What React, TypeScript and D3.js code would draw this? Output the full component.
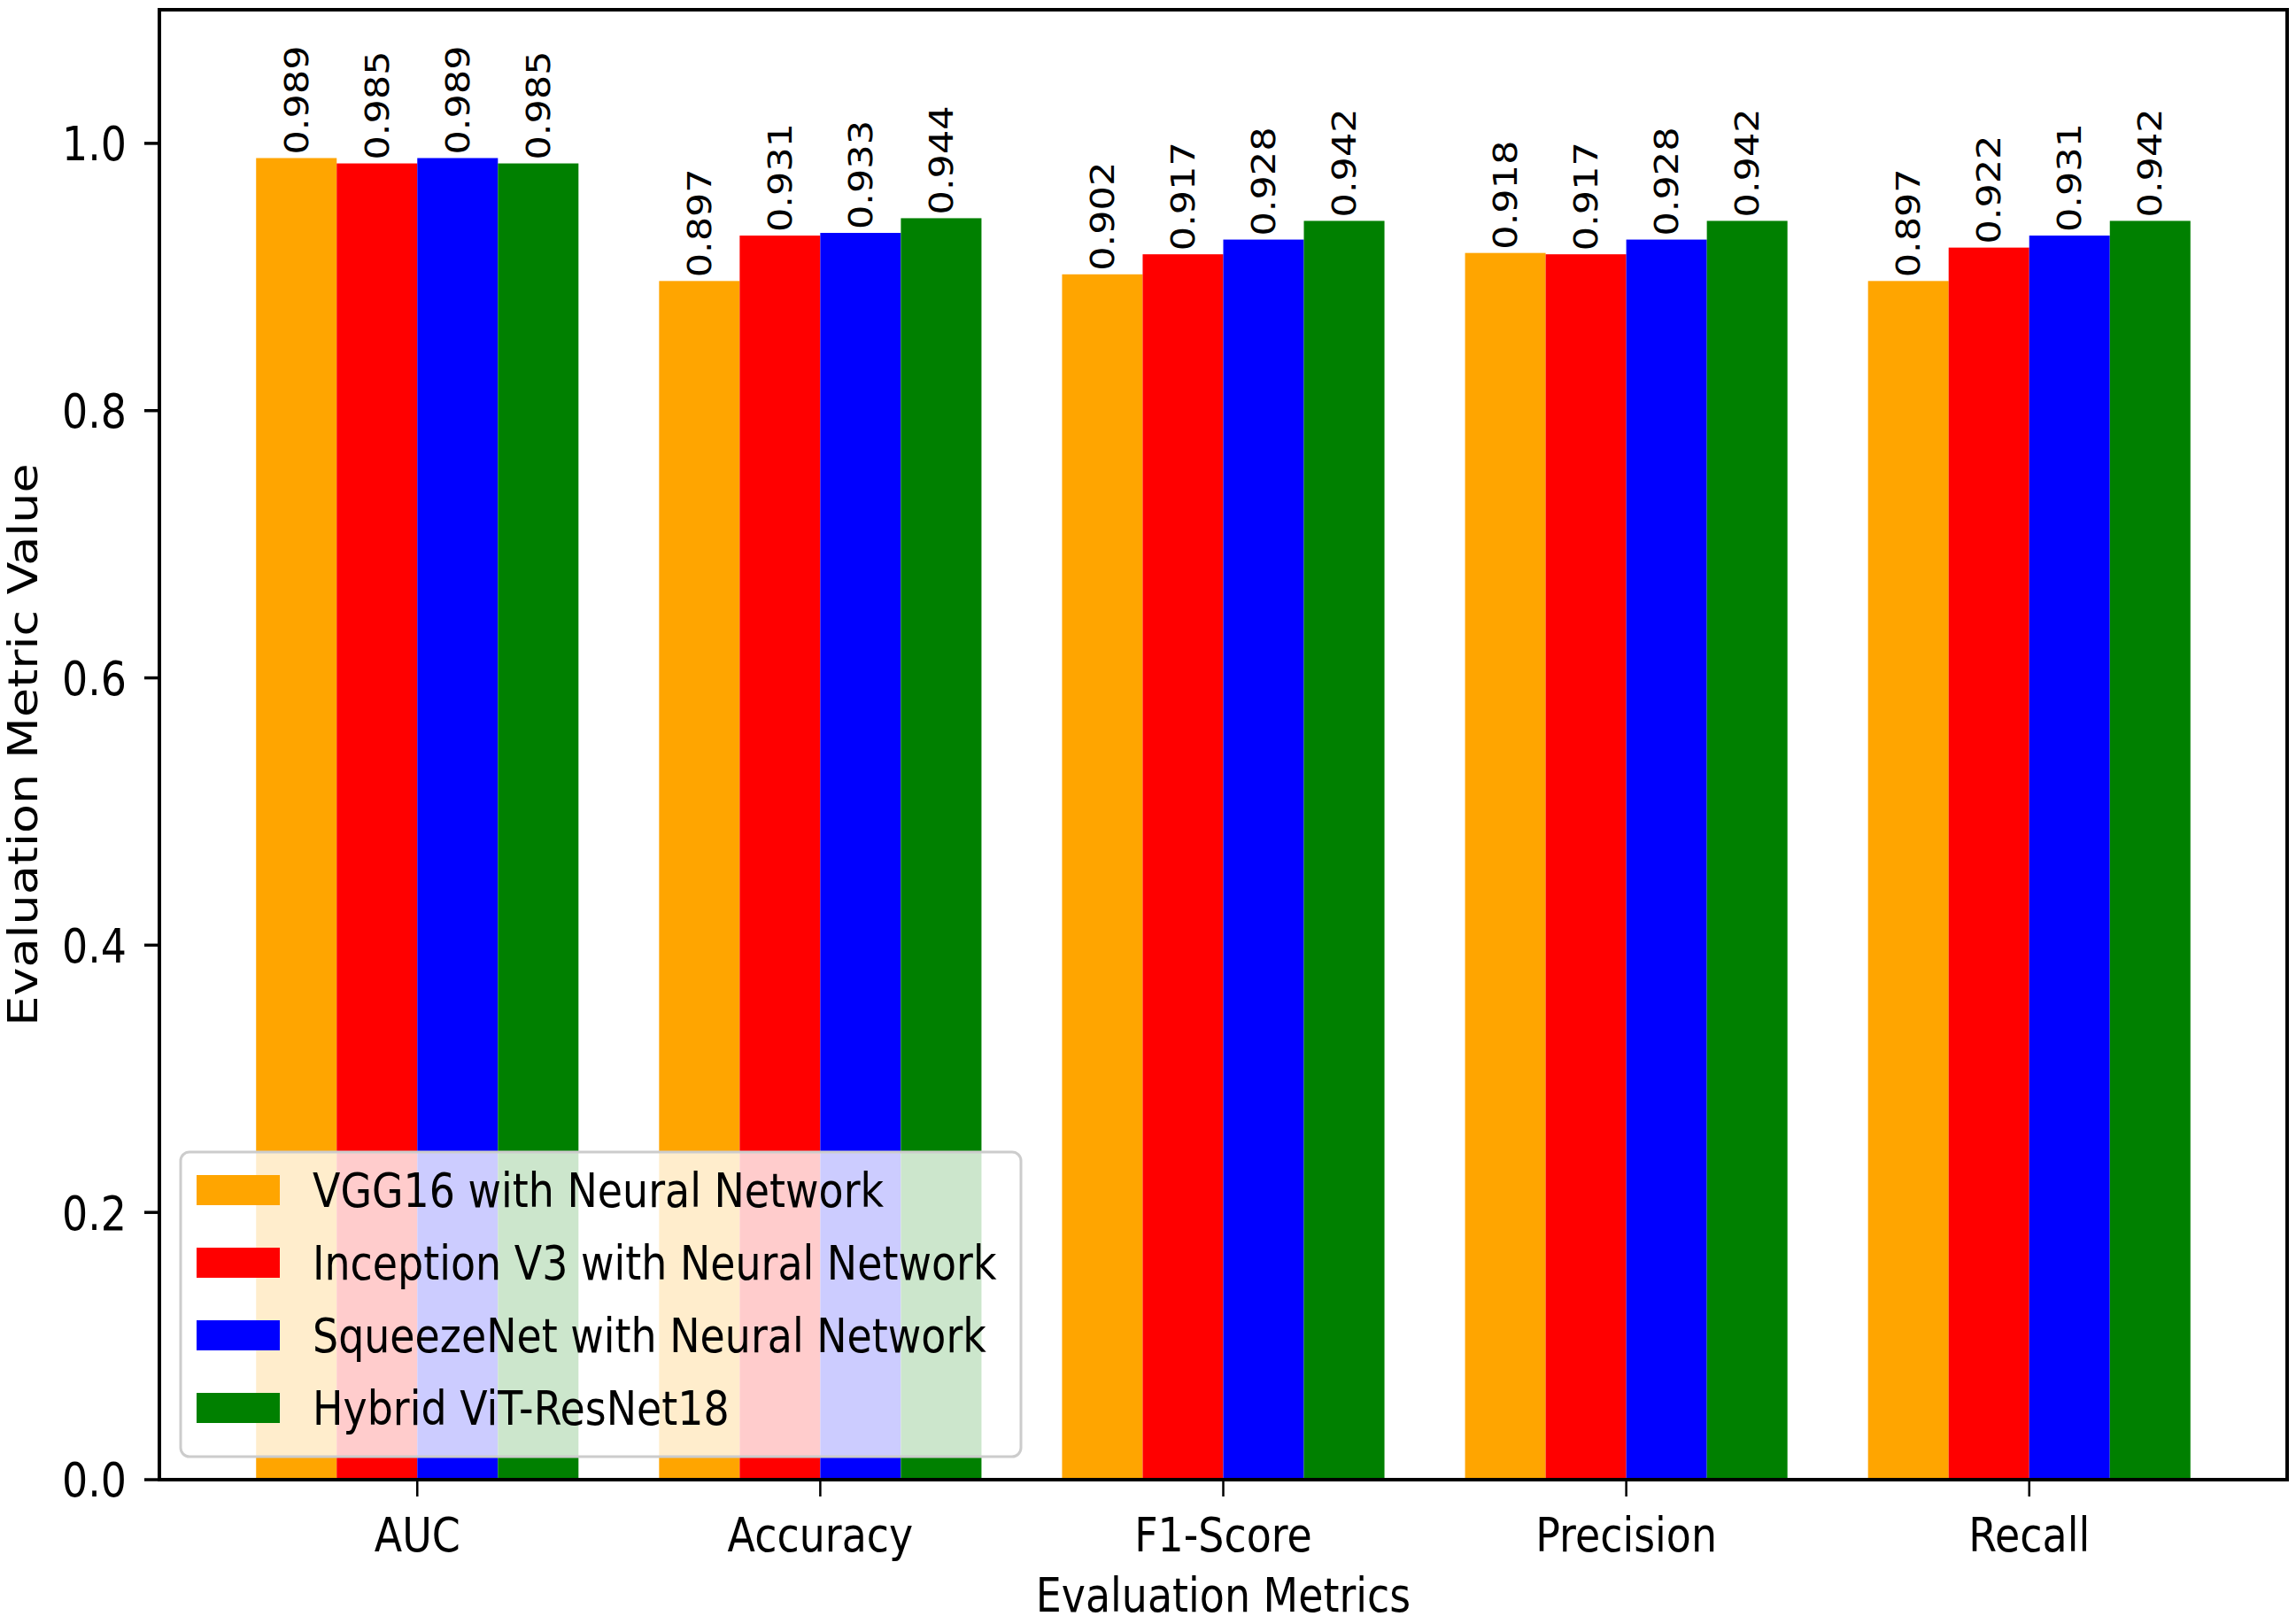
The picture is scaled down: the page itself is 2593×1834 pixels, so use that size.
import * as d3 from 'd3'

const categories = ['AUC', 'Accuracy', 'F1-Score', 'Precision', 'Recall']
const seriesNames = [
  'VGG16 with Neural Network',
  'Inception V3 with Neural Network',
  'SqueezeNet with Neural Network',
  'Hybrid ViT-ResNet18',
]
const seriesColors = ['#ffa500', '#ff0000', '#0000ff', '#008000']

const vgg16 = [0.989, 0.897, 0.902, 0.918, 0.897]
const inceptionV3 = [0.985, 0.931, 0.917, 0.917, 0.922]
const squeezeNet = [0.989, 0.933, 0.928, 0.928, 0.931]
const hybridVit = [0.985, 0.944, 0.942, 0.942, 0.942]
const seriesValues = [vgg16, inceptionV3, squeezeNet, hybridVit]

const yTicks = [0, 0.2, 0.4, 0.6, 0.8, 1.0]

// the reference picture is squeezed horizontally, so text is too
const squeeze = 0.85
const font = 'DejaVu Sans'

function Label({x, y, rotate = 0, anchor = 'middle', size = 54, dy = '0', children}: any) {
  return (
    <g transform={`translate(${x},${y}) scale(${squeeze},1)`}>
      <text
        transform={rotate ? `rotate(${rotate})` : undefined}
        textAnchor={anchor}
        dy={dy}
        fontFamily={font}
        fontSize={size}
        fill="#000"
      >
        {children}
      </text>
    </g>
  )
}

export default function App() {
  const width = 2593
  const height = 1834
  const left = 180
  const right = 2583
  const top = 11
  const bottom = 1671

  const x = d3.scaleBand<string>().domain(categories).range([left, right]).paddingInner(0.2).paddingOuter(0.24)
  const xs = d3.scaleBand<string>().domain(seriesNames).range([0, x.bandwidth()])
  const y = d3.scaleLinear().domain([0, 1.1]).range([bottom, top])
  const fmtVal = d3.format('.3f')
  const fmtTick = d3.format('.1f')

  const legendLeft = 204
  const legendTop = 1301
  const legendW = 949
  const legendH = 344
  const rowGap = 82
  const firstRow = 1344

  return (
    <svg width={width} height={height} style={{position: 'absolute', left: 0, top: 0, background: '#fff'}}>
      <rect x={0} y={0} width={width} height={height} fill="#fff" />

      {seriesNames.map((name, si) =>
        categories.map((cat, ci) => {
          const v = seriesValues[si][ci]
          return (
            <rect
              key={name + cat}
              x={x(cat)! + xs(name)!}
              y={y(v)}
              width={xs.bandwidth()}
              height={y(0) - y(v)}
              fill={seriesColors[si]}
            />
          )
        })
      )}

      {seriesNames.map((name, si) =>
        categories.map((cat, ci) => {
          const v = seriesValues[si][ci]
          return (
            <Label
              key={'l' + name + cat}
              x={x(cat)! + xs(name)! + xs.bandwidth() / 2}
              y={y(v) - 4}
              rotate={-90}
              anchor="start"
              size={43}
              dy="0.36em"
            >
              {fmtVal(v)}
            </Label>
          )
        })
      )}

      {/* y axis ticks */}
      {yTicks.map(t => (
        <g key={'yt' + t}>
          <line x1={left - 17} x2={left} y1={y(t)} y2={y(t)} stroke="#000" strokeWidth={3.5} />
          <Label x={left - 37} y={y(t)} anchor="end" dy="0.36em">{fmtTick(t)}</Label>
        </g>
      ))}

      {/* x axis ticks */}
      {categories.map(c => (
        <g key={'xt' + c}>
          <line
            x1={x(c)! + x.bandwidth() / 2}
            x2={x(c)! + x.bandwidth() / 2}
            y1={bottom}
            y2={bottom + 19}
            stroke="#000"
            strokeWidth={2.5}
          />
          <Label x={x(c)! + x.bandwidth() / 2} y={1752}>{c}</Label>
        </g>
      ))}

      <rect x={left} y={top} width={right - left} height={bottom - top} fill="none" stroke="#000" strokeWidth={4} />

      <Label x={(left + right) / 2} y={1820}>Evaluation Metrics</Label>
      <Label x={42} y={(top + bottom) / 2} rotate={-90}>Evaluation Metric Value</Label>

      {/* legend */}
      <rect
        x={legendLeft}
        y={legendTop}
        width={legendW}
        height={legendH}
        rx={10}
        fill="#fff"
        fillOpacity={0.8}
        stroke="#cccccc"
        strokeWidth={3}
      />
      {seriesNames.map((name, i) => {
        const cy = firstRow + i * rowGap
        return (
          <g key={'lg' + name}>
            <rect x={222} y={cy - 17} width={94} height={34} fill={seriesColors[i]} />
            <Label x={353} y={cy} anchor="start" dy="0.36em">{name}</Label>
          </g>
        )
      })}
    </svg>
  )
}
